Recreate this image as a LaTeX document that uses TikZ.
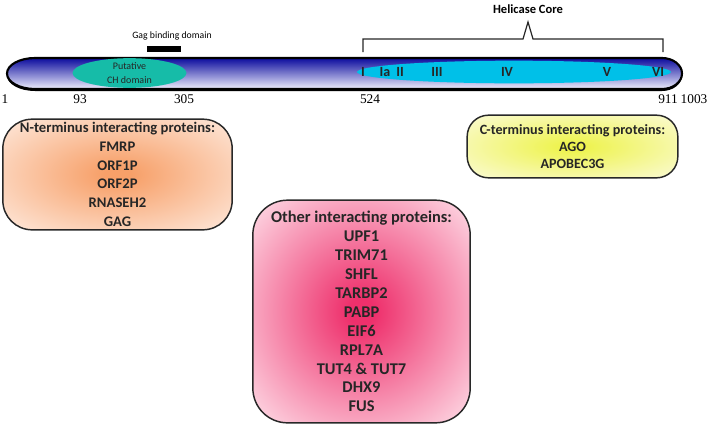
\documentclass[tikz,border=0pt]{standalone}
\usepackage{fontspec}
\setmainfont{Carlito}
\newfontfamily\numfont{Liberation Serif}
\usetikzlibrary{positioning, shapes.geometric}
\definecolor{azulBarra}{RGB}{12,12,158}
\definecolor{azulMedio}{RGB}{90,90,205}
\definecolor{lilaBarra}{RGB}{238,238,252}
\definecolor{verdeCH}{RGB}{22,188,168}
\definecolor{cianHelicasa}{RGB}{0,192,232}
\definecolor{naranjaN}{RGB}{247,160,105}
\definecolor{naranjaClaro}{RGB}{254,234,222}
\definecolor{amarilloC}{RGB}{238,243,80}
\definecolor{amarilloClaro}{RGB}{251,251,216}
\definecolor{rosaOtros}{RGB}{238,48,108}
\definecolor{rosaClaro}{RGB}{255,236,242}
\definecolor{bordeCaja}{RGB}{40,40,40}
\pgfdeclareradialshading{sombraN}{\pgfpoint{0bp}{0bp}}{color(0bp)=(naranjaN); color(3bp)=(naranjaN);
  color(36bp)=(naranjaClaro); color(50bp)=(naranjaClaro)}
\pgfdeclareradialshading{sombraC}{\pgfpoint{0bp}{0bp}}{color(0bp)=(amarilloC); color(3bp)=(amarilloC);
  color(36bp)=(amarilloClaro); color(50bp)=(amarilloClaro)}
\pgfdeclareradialshading{sombraOtros}{\pgfpoint{0bp}{0bp}}{color(0bp)=(rosaOtros); color(3bp)=(rosaOtros);
  color(38bp)=(rosaClaro); color(50bp)=(rosaClaro)}
\tikzset{
  cajaBase/.style={
    draw=bordeCaja, line width=1.1pt, rounded corners=22pt,
    align=center, font=\fontsize{11}{14}\selectfont\bfseries,
    text=black!85, inner sep=0pt
  },
  cajaN/.style={cajaBase, shading=sombraN,
    minimum width=172pt, minimum height=83pt},
  cajaC/.style={cajaBase, shading=sombraC, font=\fontsize{10.6}{12.8}\selectfont\bfseries,
    minimum width=158pt, minimum height=47pt, rounded corners=16pt},
  cajaOtros/.style={cajaBase, shading=sombraOtros, font=\fontsize{12.3}{14.2}\selectfont\bfseries,
    minimum width=163pt, minimum height=167pt, rounded corners=26pt},
  elipseCH/.style={ellipse, fill=verdeCH, inner sep=0pt,
    minimum width=85.5pt, minimum height=19.5pt,
    align=center, font=\fontsize{7.5}{10.5}\selectfont, text=black!85},
  elipseHelicasa/.style={ellipse, fill=cianHelicasa, inner sep=0pt,
    minimum width=235.5pt, minimum height=17pt},
  motivo/.style={font=\fontsize{10.5}{12}\selectfont\bfseries, text=black!85, inner sep=0pt},
  posicion/.style={font=\numfont\fontsize{10}{12}\selectfont, inner sep=0pt},
  barraGag/.style={fill=black, inner sep=0pt, minimum width=25.5pt, minimum height=4.5pt},
  etiquetaDominio/.style={font=\fontsize{7.3}{9}\selectfont, inner sep=0pt},
  etiquetaHelicasa/.style={font=\fontsize{9.4}{11}\selectfont\bfseries, inner sep=0pt},
  llave/.style={draw=black!85, line width=0.9pt},
}

\begin{document}
\begin{tikzpicture}[x=0.75pt, y=-0.75pt]
  \useasboundingbox (0,0) rectangle (709,429);

  % proteina completa
  \fill[black] (35,60) -- (662,60) arc[start angle=-90, end angle=90, x radius=20, y radius=15.5]
    -- (35,91) arc[start angle=90, end angle=270, x radius=28, y radius=15.5] -- cycle;
  \shade[top color=azulBarra, middle color=azulMedio, bottom color=lilaBarra,
         draw=black, line width=1.6pt]
    (35,58) -- (662,58) arc[start angle=-90, end angle=90, x radius=20, y radius=15.5]
    -- (35,89) arc[start angle=90, end angle=270, x radius=28, y radius=15.5] -- cycle;

  \node[elipseCH] (ch) at (129.5,73) {Putative\\CH domain};
  \node[elipseHelicasa] (helicasa) at (514,72) {};
  \foreach \x/\m [count=\i] in {363/I, 385/Ia, 400/II, 437/III, 507/IV, 607/V, 658/VI}
    \node[motivo] (motivo\i) at (\x,72) {\m};

  % dominio Gag
  \node[barraGag] (gag) at (164,49) {};
  \node[etiquetaDominio, above=4pt of gag, xshift=6pt] (gagTexto) {Gag binding domain};

  % llave del nucleo helicasa
  \coordinate (hcIzq) at (363,52);
  \coordinate (hcDer) at (663,52);
  \coordinate (hcPico) at (528,22);
  \draw[llave] (hcIzq) -- (363,39) -- (523,39) -- (hcPico) -- (533,39) -- (663,39) -- (hcDer);
  \node[etiquetaHelicasa, above=6pt of hcPico] (hcTexto) {Helicase Core};

  % posiciones
  \foreach \x/\p in {5/1, 80/93, 184/305, 370/524, 668/911, 694/1003}
    \node[posicion] (pos\p) at (\x,99) {\p};

  % proteinas que interactuan
  \node[cajaN] (nterm) at (117.5,174.5)
    {N-terminus interacting proteins:\\FMRP\\ORF1P\\ORF2P\\RNASEH2\\GAG};
  \node[cajaC] (cterm) at (572.5,146.5)
    {C-terminus interacting proteins:\\AGO\\APOBEC3G};
  \node[cajaOtros] (otros) at (361.5,311.5)
    {Other interacting proteins:\\UPF1\\TRIM71\\SHFL\\TARBP2\\PABP\\EIF6\\RPL7A\\TUT4 \& TUT7\\DHX9\\FUS};
\end{tikzpicture}
\end{document}
